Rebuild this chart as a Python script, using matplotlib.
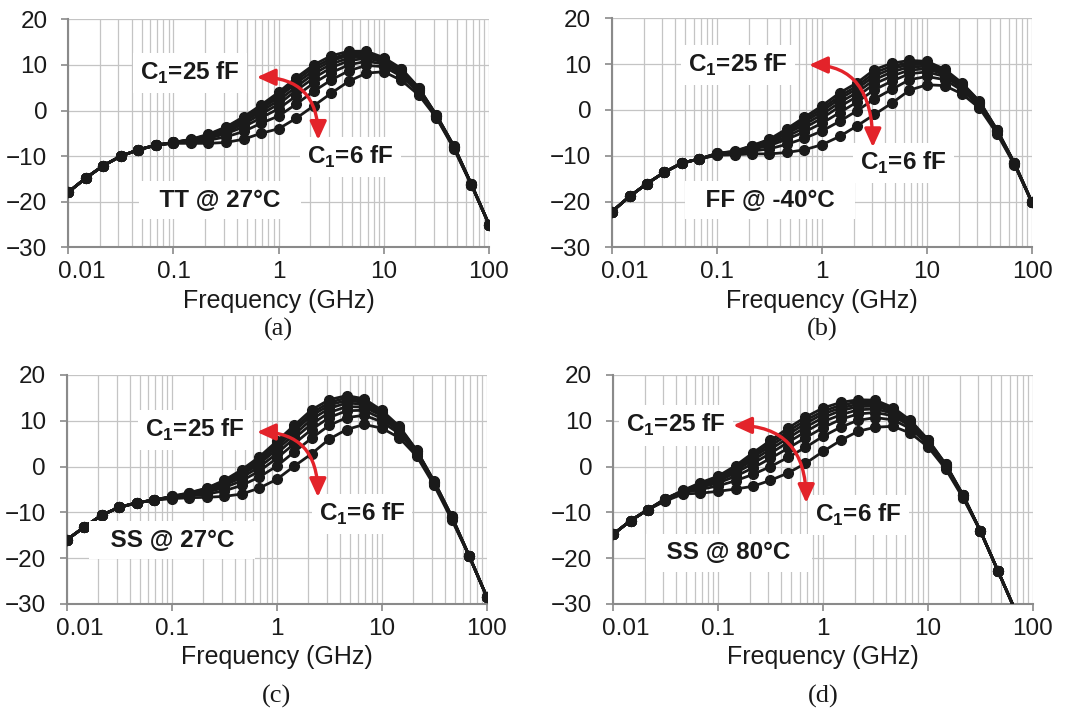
import numpy as np
import matplotlib
matplotlib.use("Agg")
import matplotlib.pyplot as plt
from matplotlib.patches import FancyArrowPatch
from matplotlib.transforms import ScaledTranslation

plt.rcParams['font.family'] = ['Liberation Sans', 'DejaVu Sans']
plt.rcParams['mathtext.fontset'] = 'custom'
plt.rcParams['mathtext.rm'] = 'Liberation Sans'
plt.rcParams['mathtext.bf'] = 'Liberation Sans:bold'

# Frequency points (GHz), 6 per decade from 0.01 to 100
freq = [0.01, 0.0147, 0.0215, 0.0316, 0.0464, 0.0681,
        0.1, 0.147, 0.215, 0.316, 0.464, 0.681,
        1.0, 1.47, 2.15, 3.16, 4.64, 6.81,
        10.0, 14.7, 21.5, 31.6, 46.4, 68.1, 100.0]

cap_labels = ["6 fF", "9 fF", "12 fF", "14 fF", "17 fF", "20 fF", "22 fF", "25 fF"]

# Panel (a): TT @ 27C  -- one list per C1 value (bottom 6 fF -> top 25 fF)
tt_27 = [
    [-17.9,-14.8,-12.1,-10.0,-8.6,-7.6,-7.2,-7.2,-7.2,-7.0,-6.3,-5.0,-4.0,-1.7,1.0,3.8,6.4,8.2,8.5,6.6,3.4,-1.6,-8.4,-16.4,-25.0],
    [-17.9,-14.8,-12.1,-10.0,-8.6,-7.6,-7.1,-6.9,-6.5,-5.8,-4.6,-2.8,-1.2,1.4,4.2,6.7,8.7,9.9,9.6,7.5,4.0,-1.4,-8.2,-16.3,-25.0],
    [-17.9,-14.8,-12.1,-10.0,-8.6,-7.6,-7.1,-6.7,-6.1,-5.1,-3.6,-1.6,0.4,3.2,6.0,8.3,10.0,10.8,10.2,8.0,4.3,-1.3,-8.1,-16.3,-25.0],
    [-17.9,-14.8,-12.1,-10.0,-8.6,-7.6,-7.1,-6.6,-5.8,-4.7,-3.0,-0.8,1.4,4.4,7.1,9.4,10.9,11.5,10.6,8.4,4.5,-1.2,-8.0,-16.3,-25.0],
    [-17.9,-14.8,-12.1,-10.0,-8.6,-7.6,-7.0,-6.5,-5.6,-4.3,-2.5,-0.2,2.2,5.2,8.0,10.2,11.5,11.9,10.9,8.6,4.6,-1.1,-7.9,-16.2,-25.0],
    [-17.9,-14.8,-12.1,-10.0,-8.6,-7.6,-7.0,-6.4,-5.5,-4.1,-2.1,0.3,2.9,6.0,8.7,10.9,12.1,12.3,11.2,8.8,4.8,-1.1,-7.9,-16.2,-25.0],
    [-17.9,-14.8,-12.1,-10.0,-8.6,-7.6,-7.0,-6.4,-5.3,-3.8,-1.7,0.8,3.4,6.6,9.4,11.4,12.5,12.7,11.4,9.0,4.9,-1.0,-7.8,-16.2,-25.0],
    [-17.9,-14.8,-12.1,-10.0,-8.6,-7.6,-7.0,-6.3,-5.2,-3.6,-1.4,1.2,4.0,7.2,10.0,12.0,13.0,13.0,11.6,9.2,5.0,-1.0,-7.8,-16.2,-25.0],
]

# Panel (b): FF @ -40C
ff_m40 = [
    [-22.2,-18.9,-16.1,-13.6,-11.6,-10.7,-9.9,-9.8,-9.6,-9.6,-9.3,-8.7,-7.6,-5.8,-3.5,-1.0,1.5,4.3,5.5,5.3,3.5,0.4,-5.2,-12.0,-20.2],
    [-22.2,-18.9,-16.1,-13.6,-11.6,-10.7,-9.8,-9.5,-9.0,-8.5,-7.5,-6.2,-4.6,-2.5,-0.2,2.4,4.5,6.6,7.3,6.6,4.3,0.9,-4.9,-11.9,-20.2],
    [-22.2,-18.9,-16.1,-13.6,-11.6,-10.7,-9.7,-9.4,-8.6,-7.8,-6.4,-4.8,-2.9,-0.6,1.7,4.4,6.3,7.9,8.3,7.3,4.8,1.2,-4.7,-11.8,-20.2],
    [-22.2,-18.9,-16.1,-13.6,-11.6,-10.7,-9.6,-9.3,-8.4,-7.4,-5.8,-3.9,-1.8,0.7,2.9,5.7,7.4,8.7,9.0,7.7,5.1,1.4,-4.6,-11.7,-20.2],
    [-22.2,-18.9,-16.1,-13.6,-11.6,-10.7,-9.6,-9.2,-8.2,-7.1,-5.2,-3.2,-1.0,1.6,3.8,6.6,8.3,9.4,9.5,8.1,5.4,1.6,-4.5,-11.7,-20.2],
    [-22.2,-18.9,-16.1,-13.6,-11.6,-10.7,-9.6,-9.1,-8.1,-6.8,-4.8,-2.6,-0.3,2.4,4.6,7.4,9.0,9.9,9.9,8.4,5.6,1.7,-4.4,-11.7,-20.2],
    [-22.2,-18.9,-16.1,-13.6,-11.6,-10.7,-9.5,-9.1,-7.9,-6.6,-4.5,-2.1,0.3,3.0,5.2,8.1,9.6,10.3,10.2,8.6,5.7,1.8,-4.4,-11.6,-20.2],
    [-22.2,-18.9,-16.1,-13.6,-11.6,-10.7,-9.5,-9.0,-7.8,-6.4,-4.1,-1.6,0.9,3.7,5.9,8.8,10.2,10.8,10.6,8.9,5.9,1.9,-4.3,-11.6,-20.2],
]

# Panel (c): SS @ 27C
ss_27 = [
    [-16.0,-13.2,-10.6,-8.9,-7.9,-7.3,-7.0,-6.8,-6.7,-6.5,-6.0,-4.7,-2.8,0.1,2.8,6.0,8.1,9.2,8.4,6.3,2.3,-4.1,-11.6,-19.5,-28.4],
    [-16.0,-13.2,-10.6,-8.9,-7.9,-7.3,-6.8,-6.4,-6.0,-5.3,-4.1,-2.3,0.1,3.2,6.2,9.0,10.7,11.2,9.8,7.2,2.8,-3.8,-11.3,-19.5,-28.4],
    [-16.0,-13.2,-10.6,-8.9,-7.9,-7.3,-6.7,-6.2,-5.6,-4.6,-3.1,-1.0,1.8,5.0,8.1,10.7,12.2,12.3,10.5,7.7,3.0,-3.6,-11.2,-19.5,-28.4],
    [-16.0,-13.2,-10.6,-8.9,-7.9,-7.3,-6.7,-6.1,-5.3,-4.1,-2.4,-0.1,2.8,6.2,9.3,11.8,13.1,13.0,11.1,8.0,3.2,-3.5,-11.1,-19.5,-28.4],
    [-16.0,-13.2,-10.6,-8.9,-7.9,-7.3,-6.6,-5.9,-5.1,-3.8,-1.9,0.6,3.7,7.0,10.3,12.7,13.9,13.6,11.4,8.3,3.3,-3.4,-11.0,-19.5,-28.4],
    [-16.0,-13.2,-10.6,-8.9,-7.9,-7.3,-6.6,-5.9,-5.0,-3.5,-1.4,1.1,4.3,7.8,11.1,13.4,14.5,14.0,11.8,8.5,3.4,-3.3,-10.9,-19.5,-28.4],
    [-16.0,-13.2,-10.6,-8.9,-7.9,-7.3,-6.5,-5.8,-4.8,-3.2,-1.1,1.6,4.9,8.4,11.7,14.0,15.0,14.4,12.0,8.6,3.5,-3.3,-10.9,-19.5,-28.4],
    [-16.0,-13.2,-10.6,-8.9,-7.9,-7.3,-6.5,-5.7,-4.7,-3.0,-0.7,2.1,5.5,9.0,12.4,14.6,15.5,14.8,12.3,8.8,3.6,-3.2,-10.8,-19.5,-28.4],
]

# Panel (d): SS @ 80C
ss_80 = [
    [-14.8,-11.8,-9.4,-7.5,-6.0,-5.8,-5.4,-4.9,-4.3,-3.0,-1.4,0.7,3.3,5.7,7.7,8.6,8.8,7.3,4.3,-0.5,-6.8,-14.1,-22.8,-31.5,-41.0],
    [-14.8,-11.8,-9.4,-7.3,-5.7,-5.0,-4.2,-3.1,-1.7,0.0,2.0,4.2,6.6,8.6,10.1,10.7,10.2,8.3,4.9,-0.1,-6.6,-14.1,-22.8,-31.5,-41.0],
    [-14.8,-11.8,-9.4,-7.2,-5.6,-4.5,-3.6,-2.1,-0.3,1.8,4.0,6.3,8.5,10.3,11.5,11.8,11.1,8.8,5.2,0.1,-6.4,-14.1,-22.8,-31.5,-41.0],
    [-14.8,-11.8,-9.4,-7.2,-5.5,-4.2,-3.2,-1.4,0.7,2.9,5.3,7.6,9.8,11.3,12.4,12.6,11.6,9.2,5.4,0.2,-6.3,-14.1,-22.8,-31.5,-41.0],
    [-14.8,-11.8,-9.4,-7.1,-5.4,-4.0,-2.8,-0.9,1.4,3.8,6.2,8.6,10.7,12.2,13.1,13.2,12.0,9.5,5.5,0.4,-6.3,-14.1,-22.8,-31.5,-41.0],
    [-14.8,-11.8,-9.4,-7.1,-5.3,-3.8,-2.6,-0.5,2.0,4.5,7.0,9.4,11.5,12.8,13.6,13.7,12.3,9.7,5.7,0.4,-6.2,-14.1,-22.8,-31.5,-41.0],
    [-14.8,-11.8,-9.4,-7.0,-5.3,-3.7,-2.3,-0.2,2.5,5.1,7.7,10.1,12.1,13.4,14.1,14.1,12.6,9.9,5.8,0.5,-6.2,-14.1,-22.8,-31.5,-41.0],
    [-14.8,-11.8,-9.4,-7.0,-5.2,-3.5,-2.1,0.2,3.0,5.7,8.4,10.8,12.8,14.0,14.6,14.5,12.9,10.1,5.9,0.6,-6.1,-14.1,-22.8,-31.5,-41.0],
]

panels = [
    dict(data=tt_27, label="TT @ 27°C", tag="(a)", rect=[68.3, 19.3, 489.0, 247.3],
         c25=(0.289, 0.764), c6=(0.67, 0.396), corner=(0.361, 0.207),
         arr=((0.448, 0.746), (0.594, 0.471))),
    dict(data=ff_m40, label="FF @ -40°C", tag="(b)", rect=[612.0, 18.3, 1032.0, 247.3],
         c25=(0.30, 0.796), c6=(0.693, 0.368), corner=(0.376, 0.206),
         arr=((0.469, 0.796), (0.621, 0.437))),
    dict(data=ss_27, label="SS @ 27°C", tag="(c)", rect=[66.7, 375.0, 486.7, 604.0],
         c25=(0.305, 0.76), c6=(0.703, 0.393), corner=(0.251, 0.279),
         arr=((0.453, 0.751), (0.598, 0.467))),
    dict(data=ss_80, label="SS @ 80°C", tag="(d)", rect=[613.0, 375.0, 1033.0, 604.0],
         c25=(0.15, 0.78), c6=(0.584, 0.389), corner=(0.276, 0.223),
         arr=((0.286, 0.78), (0.46, 0.441))),
]

W, H = 1066, 713
fig = plt.figure(figsize=(W / 100, H / 100), dpi=100)

axis_gray = '#8a8a8a'
grid_gray = '#c4c4c4'
red = '#e3232a'
ink = '#1a1a1a'
FS = 17.5

for p in panels:
    x0, y0, x1, y1 = p['rect']
    ax = fig.add_axes([x0 / W, 1 - y1 / H, (x1 - x0) / W, (y1 - y0) / H])
    ax.set_xscale('log')
    ax.set_xlim(0.01, 100)
    ax.set_ylim(-30, 20)
    ax.set_yticks([-30, -20, -10, 0, 10, 20])
    ax.set_xticks([0.01, 0.1, 1, 10, 100])
    ax.set_xticklabels(['0.01', '0.1', '1', '10', '100'])
    ax.xaxis.set_minor_locator(matplotlib.ticker.LogLocator(base=10, subs=np.arange(2, 10)))
    ax.xaxis.set_minor_formatter(matplotlib.ticker.NullFormatter())
    ax.grid(True, which='both', axis='x', color=grid_gray, lw=0.9)
    ax.grid(True, which='major', axis='y', color=grid_gray, lw=0.9)
    ax.set_axisbelow(True)
    for s in ['top', 'right']:
        ax.spines[s].set_visible(False)
    for s in ['left', 'bottom']:
        ax.spines[s].set_color(axis_gray)
        ax.spines[s].set_linewidth(1.5)
    ax.tick_params(axis='both', which='major', direction='out', length=5, width=1.2,
                   color=axis_gray, labelsize=FS, labelcolor=ink)
    ax.tick_params(axis='x', which='major', pad=5)
    ax.tick_params(axis='y', which='major', pad=10)
    ax.tick_params(axis='x', which='minor', length=0)
    lbl = ax.get_xticklabels()[0]
    lbl.set_transform(lbl.get_transform() + ScaledTranslation(13 / 100, 0, fig.dpi_scale_trans))

    for series in p['data']:
        ax.plot(freq, series, color=ink, lw=2.0, marker='o', ms=7,
                clip_on=True, zorder=3)

    ax.set_xlabel('Frequency (GHz)', fontsize=18, color=ink, labelpad=4)

    ax.text(*p['c25'], r'C$_{\mathbf{1}}$=25 fF', transform=ax.transAxes, fontsize=FS,
            fontweight='bold', ha='center', va='center', zorder=5, color=ink,
            bbox=dict(boxstyle='square,pad=0.3', facecolor='white', edgecolor='none'))
    ax.text(*p['c6'], r'C$_{\mathbf{1}}$=6 fF', transform=ax.transAxes, fontsize=FS,
            fontweight='bold', ha='center', va='center', zorder=5, color=ink,
            bbox=dict(boxstyle='square,pad=0.3', facecolor='white', edgecolor='none'))
    ax.text(*p['corner'], '  ' + p['label'] + '  ', transform=ax.transAxes, fontsize=FS,
            fontweight='bold', ha='center', va='center', zorder=5, color=ink,
            bbox=dict(boxstyle='square,pad=0.3', facecolor='white', edgecolor='none'))
    a0, a1 = p['arr']
    arrow = FancyArrowPatch(a0, a1, transform=ax.transAxes,
                            arrowstyle='<|-|>,head_length=11,head_width=5',
                            connectionstyle='angle3,angleA=0,angleB=90', color=red, lw=2.4,
                            zorder=6, shrinkA=0, shrinkB=0)
    ax.add_patch(arrow)

    cx = (x0 + x1) / 2 / W
    ty = 329 if y0 < 100 else 696
    fig.text(cx, 1 - ty / H, p['tag'], family='Liberation Serif', fontsize=19,
             ha='center', va='center', color=ink)

fig.savefig('out.png', dpi=100, facecolor='white')
